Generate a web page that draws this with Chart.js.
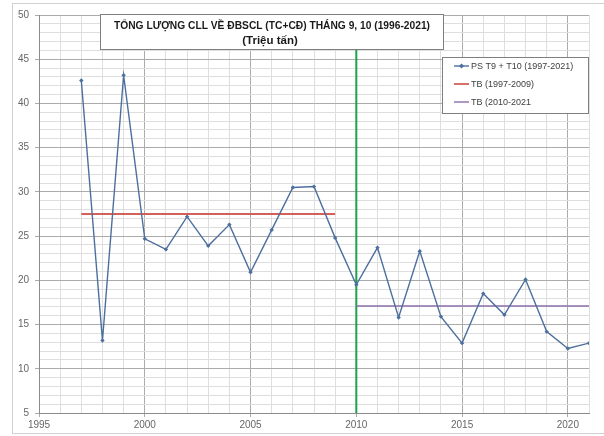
<!DOCTYPE html>
<html>
<head>
<meta charset="utf-8">
<style>
  html, body { margin: 0; padding: 0; background: #ffffff; }
  #wrap { position: relative; width: 604px; height: 436px; }
</style>
<script src="https://cdn.jsdelivr.net/npm/chart.js@4/dist/chart.umd.min.js"></script>
</head>
<body>
<div id="wrap"><canvas id="c" width="604" height="436"></canvas></div>
<script>
// Annual total (Sept + Oct), million tonnes
const years = [1997, 1998, 1999, 2000, 2001, 2002, 2003, 2004, 2005, 2006, 2007, 2008, 2009,
               2010, 2011, 2012, 2013, 2014, 2015, 2016, 2017, 2018, 2019, 2020, 2021];
const totals = [42.6, 13.2, 43.2, 24.7, 23.5, 27.2, 23.9, 26.3, 20.9, 25.7, 30.5, 30.6, 24.8,
                19.5, 23.7, 15.8, 23.3, 15.9, 12.9, 18.5, 16.1, 20.1, 14.2, 12.3, 12.9];

// Period averages
const earlyPeriod = [1997, 2009];
const earlyMean = 27.5;
const latePeriod = [2010, 2021];
const lateMean = 17.1;

// Divider between the two periods
const dividerYear = 2010;
const yRange = [5, 50];
const xRange = [1995, 2021];

const titleLines = ['TỔNG LƯỢNG CLL VỀ ĐBSCL (TC+CĐ) THÁNG 9, 10 (1996-2021)', '(Triệu tấn)'];
const legendLabels = ['PS T9 + T10 (1997-2021)', 'TB (1997-2009)', 'TB (2010-2021'];

const BLUE = '#4d6f9e';
const RED = '#d4605a';
const PURPLE = '#8a6fa8';
const GREEN = '#1aa34a';
const FONT = "'Liberation Sans Narrow', 'Liberation Sans', Arial, sans-serif";

const mainPts = years.map((y, i) => ({ x: y, y: totals[i] }));
const earlyPts = earlyPeriod.map(y => ({ x: y, y: earlyMean }));
const latePts = latePeriod.map(y => ({ x: y, y: lateMean }));
const dividerPts = yRange.map(v => ({ x: dividerYear, y: v }));

// Outer frame of the chart
const framePlugin = {
  id: 'frame',
  beforeDraw(chart) {
    const ctx = chart.ctx;
    ctx.save();
    ctx.fillStyle = '#ffffff';
    ctx.fillRect(0, 0, chart.width, chart.height);
    ctx.strokeStyle = '#d0d0d0';
    ctx.lineWidth = 1;
    ctx.strokeRect(12.5, 3.5, chart.width - 12, chart.height - 6);
    ctx.restore();
  }
};

// Draws text squeezed horizontally so it fits a given width
function fitText(ctx, text, cx, cy, maxW) {
  const w = ctx.measureText(text).width;
  const k = Math.min(1, maxW / w);
  ctx.save();
  ctx.translate(cx, cy);
  ctx.scale(k, 1);
  ctx.fillText(text, 0, 0);
  ctx.restore();
}

// Title box and legend box inside the plot area
const overlayPlugin = {
  id: 'overlay',
  afterDraw(chart) {
    const ctx = chart.ctx;
    ctx.save();
    // title box
    const tx = 100.5, ty = 14.5, tw = 343, th = 35;
    ctx.fillStyle = '#ffffff';
    ctx.fillRect(tx, ty, tw, th);
    ctx.strokeStyle = '#7f7f7f';
    ctx.lineWidth = 1;
    ctx.strokeRect(tx, ty, tw, th);
    ctx.fillStyle = '#1a1a1a';
    ctx.font = "bold 11.5px " + FONT;
    ctx.textAlign = 'center';
    ctx.textBaseline = 'middle';
    fitText(ctx, titleLines[0], 272, ty + 11, 316);
    fitText(ctx, titleLines[1], 270, ty + 26, 58);

    // legend box
    const lx = 442.5, ly = 57.5, lw = 146, lh = 56;
    ctx.fillStyle = '#ffffff';
    ctx.fillRect(lx, ly, lw, lh);
    ctx.strokeStyle = '#7f7f7f';
    ctx.strokeRect(lx, ly, lw, lh);
    const colors = [BLUE, RED, PURPLE];
    const rows = [66, 84, 102];
    ctx.font = "9px " + FONT;
    ctx.textAlign = 'left';
    for (let i = 0; i < 3; i++) {
      ctx.strokeStyle = colors[i];
      ctx.lineWidth = i === 1 ? 1.8 : 1.4;
      ctx.beginPath();
      ctx.moveTo(454, rows[i]);
      ctx.lineTo(469, rows[i]);
      ctx.stroke();
      if (i === 0) {
        ctx.fillStyle = BLUE;
        ctx.beginPath();
        ctx.moveTo(461.5, rows[i] - 2.5);
        ctx.lineTo(464, rows[i]);
        ctx.lineTo(461.5, rows[i] + 2.5);
        ctx.lineTo(459, rows[i]);
        ctx.closePath();
        ctx.fill();
      }
      ctx.fillStyle = '#404040';
      ctx.fillText(legendLabels[i], 471, rows[i] + 0.5);
    }
    ctx.restore();
  }
};

const gridMinor = '#dedede';
const gridMajor = '#ababab';

new Chart(document.getElementById('c'), {
  type: 'scatter',
  data: {
    datasets: [
      {
        label: legendLabels[0], data: mainPts, showLine: true,
        borderColor: BLUE, backgroundColor: BLUE, borderWidth: 1.4,
        pointStyle: 'rectRot', pointRadius: 2.2, pointBorderWidth: 0, tension: 0
      },
      {
        label: legendLabels[1], data: earlyPts, showLine: true,
        borderColor: RED, borderWidth: 2, pointRadius: 0
      },
      {
        label: legendLabels[2], data: latePts, showLine: true,
        borderColor: PURPLE, borderWidth: 1.5, pointRadius: 0
      },
      {
        label: 'divider', data: dividerPts, showLine: true,
        borderColor: GREEN, borderWidth: 2, pointRadius: 0
      }
    ]
  },
  options: {
    responsive: false,
    animation: false,
    devicePixelRatio: 1,
    layout: { padding: { top: 15, right: 15, left: 0, bottom: 0 } },
    plugins: { legend: { display: false }, tooltip: { enabled: false }, title: { display: false } },
    scales: {
      x: {
        type: 'linear', min: xRange[0], max: xRange[1],
        afterFit(s) { s.height = 23; },
        ticks: {
          stepSize: 1, autoSkip: false, maxRotation: 0, padding: 2,
          color: '#666666', font: { family: FONT, size: 10 },
          callback: v => (v % 5 === 0 ? String(v) : '')
        },
        grid: {
          color: c => (c.tick && c.tick.value % 5 === 0 ? gridMajor : gridMinor),
          tickColor: c => (c.tick && c.tick.value % 5 === 0 ? gridMajor : 'rgba(0,0,0,0)'),
          tickLength: 4, lineWidth: 1
        },
        border: { color: '#8c8c8c' }
      },
      y: {
        type: 'linear', min: yRange[0], max: yRange[1],
        afterFit(s) { s.width = 39; },
        ticks: {
          stepSize: 1, autoSkip: false, padding: 6,
          color: '#666666', font: { family: FONT, size: 10 },
          callback: v => (v % 5 === 0 ? String(v) : '')
        },
        grid: {
          color: c => (c.tick && c.tick.value % 5 === 0 ? gridMajor : gridMinor),
          tickColor: c => (c.tick && c.tick.value % 5 === 0 ? gridMajor : 'rgba(0,0,0,0)'),
          tickLength: 4, lineWidth: 1
        },
        border: { color: '#8c8c8c' }
      }
    }
  },
  plugins: [framePlugin, overlayPlugin]
});
</script>
</body>
</html>
